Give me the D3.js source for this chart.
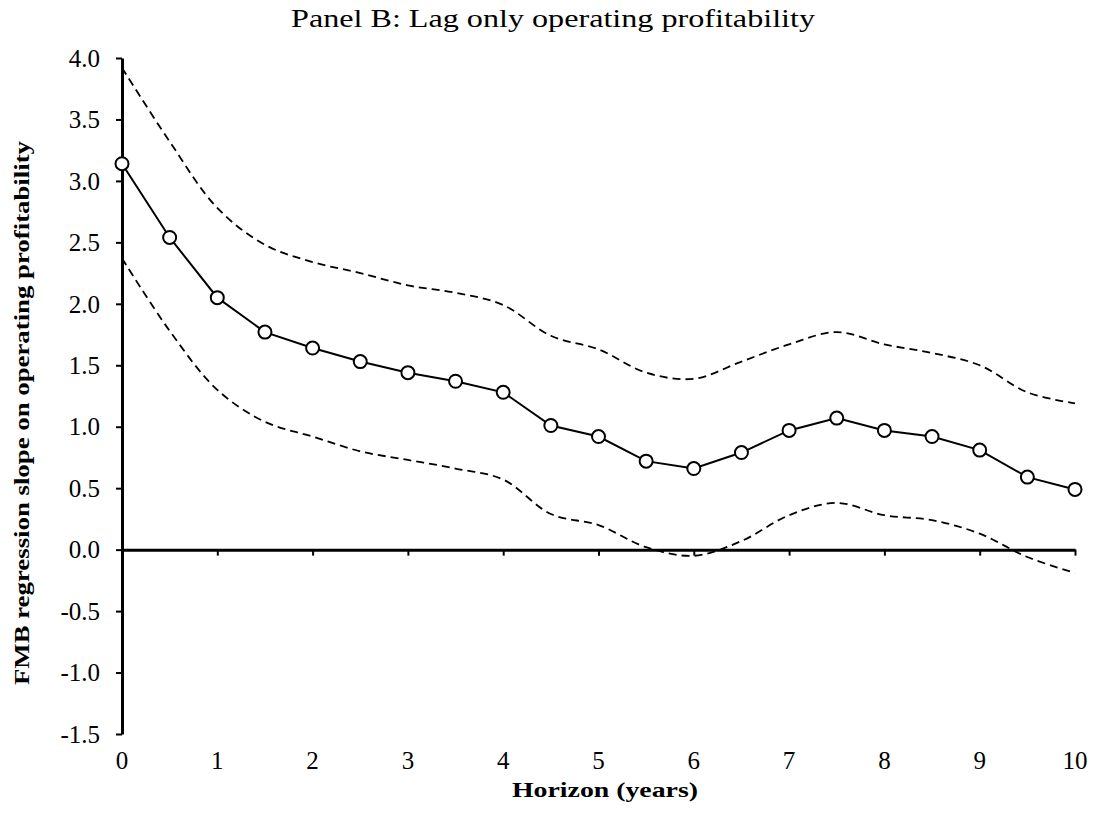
<!DOCTYPE html>
<html>
<head>
<meta charset="utf-8">
<script src="https://cdn.jsdelivr.net/npm/d3@7"></script>
<style>
  body { margin: 0; background: #fff; }
  text { font-family: "Liberation Serif", "DejaVu Serif", serif; fill: #000; }
</style>
</head>
<body>
<svg id="chart"></svg>
<script>
// horizon in years
const horizons = [0, 0.5, 1, 1.5, 2, 2.5, 3, 3.5, 4, 4.5, 5, 5.5, 6, 6.5, 7, 7.5, 8, 8.5, 9, 9.5, 10];
// FMB slope estimates
const slope = [3.14, 2.54, 2.05, 1.77, 1.64, 1.53, 1.44, 1.37, 1.28, 1.01, 0.92, 0.72, 0.66, 0.79, 0.97, 1.07, 0.97, 0.92, 0.81, 0.59, 0.49];
// confidence bands
const upper = [3.92, 3.32, 2.78, 2.48, 2.34, 2.25, 2.15, 2.09, 1.99, 1.74, 1.63, 1.44, 1.39, 1.53, 1.67, 1.77, 1.67, 1.60, 1.50, 1.28, 1.19];
const lower = [2.37, 1.78, 1.30, 1.04, 0.92, 0.80, 0.73, 0.66, 0.57, 0.29, 0.20, 0.02, -0.05, 0.07, 0.28, 0.38, 0.28, 0.24, 0.13, -0.06, -0.19];
const xTicks = [0, 1, 2, 3, 4, 5, 6, 7, 8, 9, 10];
const yTicks = [-1.5, -1.0, -0.5, 0.0, 0.5, 1.0, 1.5, 2.0, 2.5, 3.0, 3.5, 4.0];

const width = 1094, height = 822;
const svg = d3.select("#chart").attr("width", width).attr("height", height);

const x = d3.scaleLinear().domain([0, 10]).range([122, 1075]);
const y = d3.scaleLinear().domain([-1.5, 4.0]).range([734, 58]);

// plain hyphen for negatives, like the original
const fmt = d => d3.format(".1f")(d).replace("\u2212", "-");

// title
svg.append("text")
    .attr("x", 553).attr("y", 27)
    .attr("text-anchor", "middle")
    .attr("textLength", 524)
    .attr("lengthAdjust", "spacingAndGlyphs")
    .style("font-size", "25px")
    .text("Panel B: Lag only operating profitability");

// y axis
const yAxis = svg.append("g")
    .attr("transform", `translate(${x(0)},0)`)
    .call(d3.axisLeft(y).tickValues(yTicks).tickFormat(fmt).tickSize(6).tickSizeOuter(0));
yAxis.select(".domain").attr("stroke-width", 3);
yAxis.selectAll(".tick line").attr("stroke-width", 2);
yAxis.selectAll(".tick text")
    .attr("x", -22)
    .attr("dy", "0.33em")
    .style("font-size", "25px")
    .style("font-family", "'Liberation Serif', serif");

// x axis on the zero line
const xAxis = svg.append("g")
    .attr("transform", `translate(0,${y(0)})`)
    .call(d3.axisBottom(x).tickValues(xTicks).tickFormat("").tickSize(6).tickSizeOuter(0));
xAxis.select(".domain").attr("stroke-width", 3);
xAxis.selectAll(".tick line").attr("stroke-width", 2)
    .attr("display", d => d === 0 ? "none" : null);

// x tick labels below the plot
svg.append("g").selectAll("text")
    .data(xTicks)
    .enter()
    .append("text")
    .attr("x", d => x(d))
    .attr("y", 769)
    .attr("text-anchor", "middle")
    .style("font-size", "25px")
    .text(d => d);

// axis titles
svg.append("text")
    .attr("x", 605).attr("y", 797)
    .attr("text-anchor", "middle")
    .attr("textLength", 186)
    .attr("lengthAdjust", "spacingAndGlyphs")
    .style("font-size", "21px")
    .style("font-weight", "bold")
    .text("Horizon (years)");

svg.append("text")
    .attr("transform", "translate(29,413) rotate(-90)")
    .attr("text-anchor", "middle")
    .attr("textLength", 544)
    .attr("lengthAdjust", "spacingAndGlyphs")
    .style("font-size", "21px")
    .style("font-weight", "bold")
    .text("FMB regression slope on operating profitability");

// dashed bands
const band = d3.line()
    .x((d, i) => x(horizons[i]))
    .y(d => y(d))
    .curve(d3.curveCatmullRom.alpha(0.5));

[upper, lower].forEach(s => {
    svg.append("path")
        .attr("d", band(s))
        .attr("fill", "none")
        .attr("stroke", "#000")
        .attr("stroke-width", 1.8)
        .attr("stroke-dasharray", "8,5");
});

// main series
const line = d3.line()
    .x((d, i) => x(horizons[i]))
    .y(d => y(d));

svg.append("path")
    .attr("d", line(slope))
    .attr("fill", "none")
    .attr("stroke", "#000")
    .attr("stroke-width", 2);

svg.append("g").selectAll("circle")
    .data(slope)
    .enter()
    .append("circle")
    .attr("cx", (d, i) => x(horizons[i]))
    .attr("cy", d => y(d))
    .attr("r", 6.5)
    .attr("fill", "#fff")
    .attr("stroke", "#000")
    .attr("stroke-width", 2);
</script>
</body>
</html>
